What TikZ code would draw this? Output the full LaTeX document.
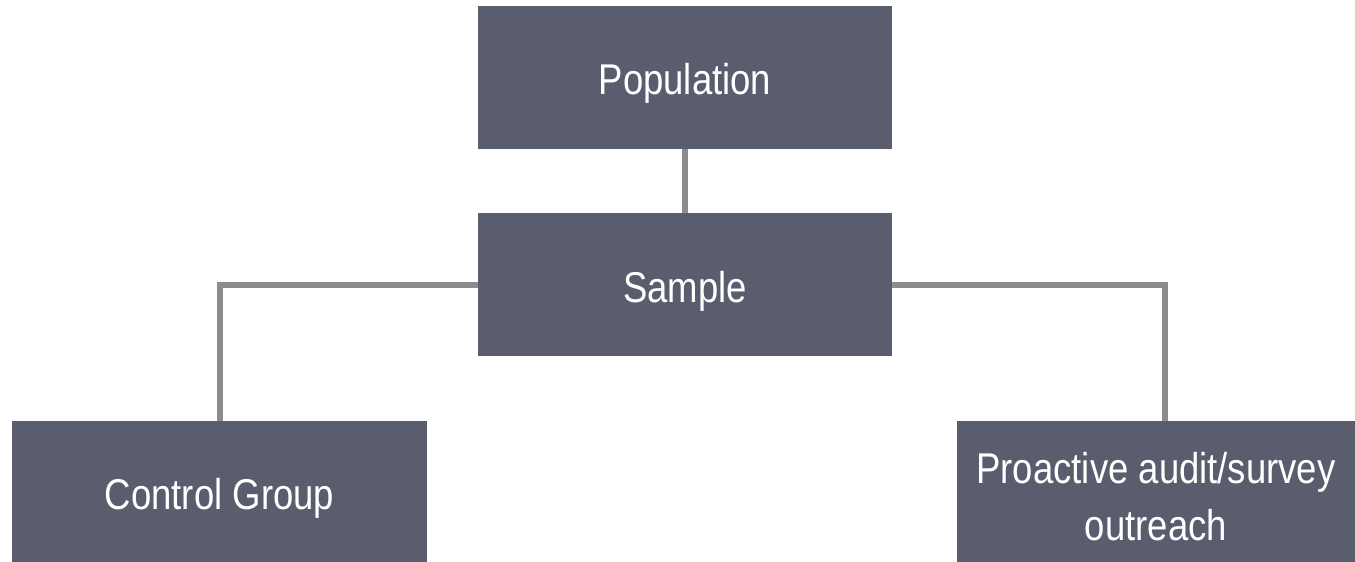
\documentclass[tikz,border=0pt]{standalone}
\usepackage{fontspec}
\usepackage{graphicx}
\setmainfont{Liberation Sans}
\definecolor{boxfill}{HTML}{5A5D6D}
\definecolor{linegray}{HTML}{8C8C8C}
\newcommand{\boxtext}[1]{\scalebox{1}[1.18]{#1}}
\begin{document}
\begin{tikzpicture}[x=1pt,y=-1pt,
  box/.style={fill=boxfill,draw=none,text=white,inner sep=0pt,outer sep=0pt,
    font=\fontsize{36.5}{44}\selectfont,text height=35pt,text depth=0pt},
  conn/.style={draw=linegray,line width=6pt,miter limit=10}]
\useasboundingbox (0,0) rectangle (1355,562);
\node[box,minimum width=414pt,minimum height=143pt] (pop) at (685,77) {\boxtext{Population}};
\node[box,minimum width=414pt,minimum height=143pt] (sam) at (685,284.5) {\boxtext{Sample}};
\node[box,minimum width=415pt,minimum height=141pt] (ctl) at (219.5,491.5) {\boxtext{Control Group}};
\node[box,minimum width=398pt,minimum height=141pt,text height=0pt,text depth=17pt] (pro) at (1156,491.5)
  {\boxtext{\begin{tabular}[t]{@{}c@{}}Proactive audit/survey\\[4.3pt]outreach\end{tabular}}};
\draw[conn] (pop.south -| 684.5,0) -- (sam.north -| 684.5,0);
\draw[conn] (sam.west |- 0,285) -| (ctl.north);
\draw[conn] (sam.east |- 0,285) -| (pro.north -| 1164.5,0);
\end{tikzpicture}
\end{document}
